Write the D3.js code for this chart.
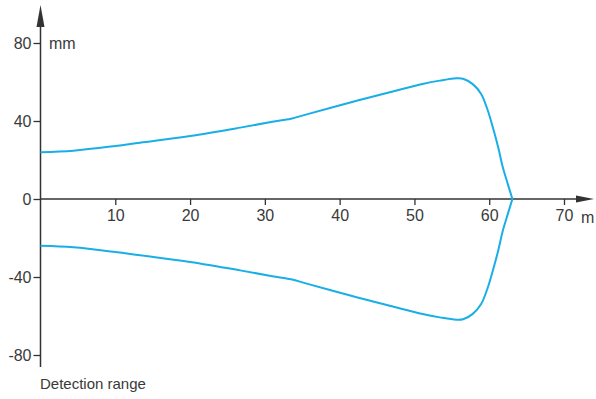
<!DOCTYPE html>
<html><head><meta charset="utf-8">
<script src="https://cdn.jsdelivr.net/npm/d3@7"></script>
<style>body{margin:0;background:#fff}svg{display:block}text{font-family:"Liberation Sans",Arial,sans-serif;fill:#3a3a3a}</style>
</head><body>
<script>
const xTicks = [10, 20, 30, 40, 50, 60, 70];
const yTicks = [-80, -40, 0, 40, 80];
const rangeX = [0, 4.4, 10, 13.3, 20, 26.7, 31, 33.5, 35.6, 41.3, 46.7, 51.1, 53.4, 55.6, 56.5, 57.8, 58.9, 59.8, 60.5, 61.2, 61.8, 62.5, 63.1];
const rangeY = [24, 24.8, 27.2, 28.9, 32.3, 36.6, 39.6, 41.2, 43.4, 49.4, 54.7, 59, 60.7, 61.9, 61.7, 58.9, 54, 45.5, 36.5, 26.5, 16.5, 7.5, 0];
const xUnit = "m", yUnit = "mm", caption = "Detection range";

const W = 596, H = 399;
const svg = d3.select("body").append("svg").attr("width", W).attr("height", H);
const x = d3.scaleLinear().domain([0, 70]).range([40.5, 564]);
const y = d3.scaleLinear().domain([-80, 80]).range([355, 43]);
const ax = "#333";

// x axis
const gx = svg.append("g").attr("transform", `translate(0,${y(0)})`)
  .call(d3.axisBottom(x).tickValues(xTicks).tickSize(6).tickSizeOuter(0).tickPadding(5));
gx.select(".domain").remove();
gx.selectAll("line").attr("stroke", ax).attr("stroke-width", 1.3);
gx.selectAll("text").style("font-size", "16px").attr("fill", "#3a3a3a");
svg.append("line").attr("x1", x(0)).attr("x2", 580).attr("y1", y(0)).attr("y2", y(0)).attr("stroke", ax).attr("stroke-width", 1.5);
svg.append("path").attr("d", `M576,${y(0)-3.5} L594,${y(0)} L576,${y(0)+3.5} Z`).attr("fill", ax);

// y axis
const gy = svg.append("g").attr("transform", `translate(${x(0)},0)`)
  .call(d3.axisLeft(y).tickValues(yTicks).tickSize(7).tickSizeOuter(0).tickPadding(2));
gy.select(".domain").remove();
gy.selectAll("line").attr("stroke", ax).attr("stroke-width", 1.3);
gy.selectAll("text").style("font-size", "16px").attr("fill", "#3a3a3a").text(d => d < 0 ? "-" + Math.abs(d) : d);
svg.append("line").attr("x1", x(0)).attr("x2", x(0)).attr("y1", 20).attr("y2", 367).attr("stroke", ax).attr("stroke-width", 1.5);
svg.append("path").attr("d", `M${x(0)-4},27 L${x(0)},5 L${x(0)+4},27 Z`).attr("fill", ax);

svg.append("text").attr("x", 49).attr("y", y(80) + 6).style("font-size", "16px").text(yUnit);
svg.append("text").attr("x", 581).attr("y", y(0) + 24).style("font-size", "16px").text(xUnit);
svg.append("text").attr("x", 40).attr("y", 389).style("font-size", "15px").text(caption);

const pts = rangeX.map((d, i) => [d, rangeY[i]]);
const line = d3.line().x(d => x(d[0])).y(d => y(d[1])).curve(d3.curveCatmullRom.alpha(0.5));
svg.append("path").attr("d", line(pts)).attr("fill", "none").attr("stroke", "#1aaee6").attr("stroke-width", 2);
svg.append("path").attr("d", line(pts.map(d => [d[0], -d[1]]))).attr("fill", "none").attr("stroke", "#1aaee6").attr("stroke-width", 2);
</script>
</body></html>
